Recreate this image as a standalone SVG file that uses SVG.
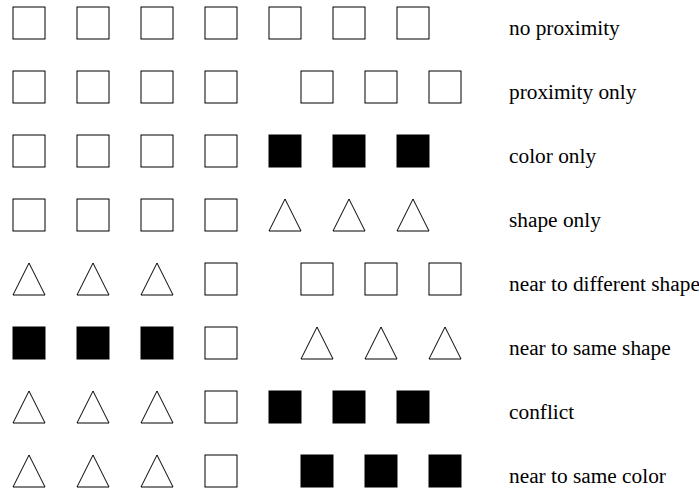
<svg xmlns="http://www.w3.org/2000/svg" width="699" height="490" viewBox="0 0 699 490">
<style>
.o{fill:#fff;stroke:#000;stroke-width:1}
.f{fill:#000;stroke:#000;stroke-width:1}
text{font-family:'Liberation Serif','DejaVu Serif',serif;font-size:21.33px;fill:#000}
</style>
<defs>
<rect id="sq" x="0" y="0" width="32" height="32"/>
<path id="tri" d="M16,0 L32,32 L0,32 Z"/>
</defs>
<rect width="699" height="490" fill="#fff"/>
<g id="row1">
<use href="#sq" class="o" x="13" y="7"/><use href="#sq" class="o" x="77" y="7"/><use href="#sq" class="o" x="141" y="7"/><use href="#sq" class="o" x="205" y="7"/>
<use href="#sq" class="o" x="269" y="7"/><use href="#sq" class="o" x="333" y="7"/><use href="#sq" class="o" x="397" y="7"/>
<text x="509" y="34.5">no proximity</text>
</g>
<g id="row2">
<use href="#sq" class="o" x="13" y="71"/><use href="#sq" class="o" x="77" y="71"/><use href="#sq" class="o" x="141" y="71"/><use href="#sq" class="o" x="205" y="71"/>
<use href="#sq" class="o" x="301" y="71"/><use href="#sq" class="o" x="365" y="71"/><use href="#sq" class="o" x="429" y="71"/>
<text x="509" y="98.5">proximity only</text>
</g>
<g id="row3">
<use href="#sq" class="o" x="13" y="135"/><use href="#sq" class="o" x="77" y="135"/><use href="#sq" class="o" x="141" y="135"/><use href="#sq" class="o" x="205" y="135"/>
<use href="#sq" class="f" x="269" y="135"/><use href="#sq" class="f" x="333" y="135"/><use href="#sq" class="f" x="397" y="135"/>
<text x="509" y="162.5">color only</text>
</g>
<g id="row4">
<use href="#sq" class="o" x="13" y="199"/><use href="#sq" class="o" x="77" y="199"/><use href="#sq" class="o" x="141" y="199"/><use href="#sq" class="o" x="205" y="199"/>
<use href="#tri" class="o" x="269" y="199"/><use href="#tri" class="o" x="333" y="199"/><use href="#tri" class="o" x="397" y="199"/>
<text x="509" y="226.5">shape only</text>
</g>
<g id="row5">
<use href="#tri" class="o" x="13" y="263"/><use href="#tri" class="o" x="77" y="263"/><use href="#tri" class="o" x="141" y="263"/><use href="#sq" class="o" x="205" y="263"/>
<use href="#sq" class="o" x="301" y="263"/><use href="#sq" class="o" x="365" y="263"/><use href="#sq" class="o" x="429" y="263"/>
<text x="509" y="290.5">near to different shape</text>
</g>
<g id="row6">
<use href="#sq" class="f" x="13" y="327"/><use href="#sq" class="f" x="77" y="327"/><use href="#sq" class="f" x="141" y="327"/><use href="#sq" class="o" x="205" y="327"/>
<use href="#tri" class="o" x="301" y="327"/><use href="#tri" class="o" x="365" y="327"/><use href="#tri" class="o" x="429" y="327"/>
<text x="509" y="354.5">near to same shape</text>
</g>
<g id="row7">
<use href="#tri" class="o" x="13" y="391"/><use href="#tri" class="o" x="77" y="391"/><use href="#tri" class="o" x="141" y="391"/><use href="#sq" class="o" x="205" y="391"/>
<use href="#sq" class="f" x="269" y="391"/><use href="#sq" class="f" x="333" y="391"/><use href="#sq" class="f" x="397" y="391"/>
<text x="509" y="418.5">conflict</text>
</g>
<g id="row8">
<use href="#tri" class="o" x="13" y="455"/><use href="#tri" class="o" x="77" y="455"/><use href="#tri" class="o" x="141" y="455"/><use href="#sq" class="o" x="205" y="455"/>
<use href="#sq" class="f" x="301" y="455"/><use href="#sq" class="f" x="365" y="455"/><use href="#sq" class="f" x="429" y="455"/>
<text x="509" y="482.5">near to same color</text>
</g>
<g id="connectors"></g>
</svg>
